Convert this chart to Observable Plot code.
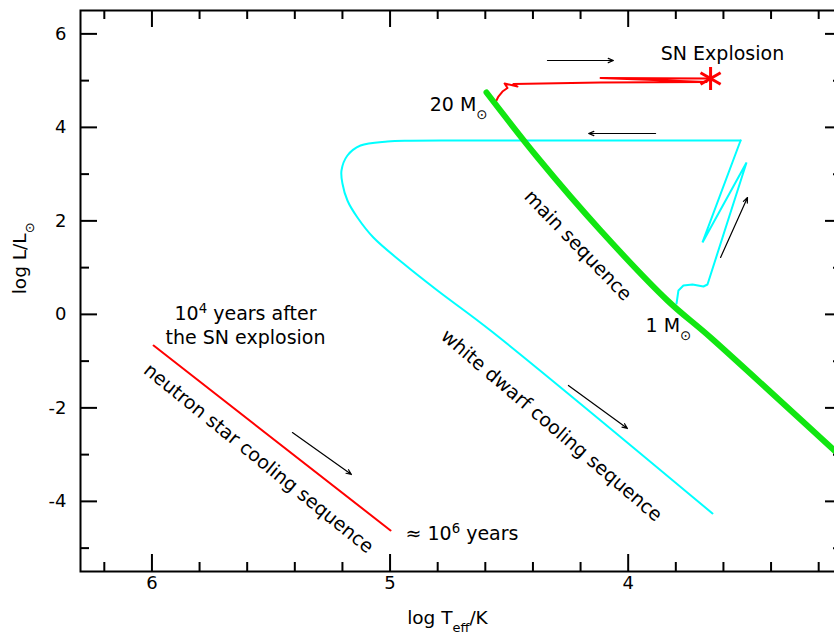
<!DOCTYPE html>
<html>
<head>
<meta charset="utf-8">
<script src="https://cdn.jsdelivr.net/npm/d3@7"></script>
<script src="https://cdn.jsdelivr.net/npm/@observablehq/plot@0.6"></script>
<style>
  html, body { margin: 0; padding: 0; background: #fff; overflow: hidden; }
  #chart { width: 834px; height: 634px; overflow: hidden; }
  #chart svg { display: block; max-width: none !important; width: 850px; height: 634px; }
</style>
</head>
<body>
<div id="chart"></div>
<script>
// Hertzsprung–Russell diagram: evolutionary tracks of a 1 and a 20 solar-mass star
// x = log Teff (K), y = log L/Lsun

// Zero-age main sequence
const mainSeqTeff = [4.595, 4.377, 4.116, 3.835, 3.654, 3.134, 3.080];
const mainSeqLum  = [4.746, 3.334, 1.794, 0.297, -0.495, -2.912, -3.160];

// 1 Msun: main sequence -> red giant branch -> horizontal branch -> AGB
const sunTeff = [3.797, 3.789, 3.768, 3.730, 3.684, 3.667, 3.503, 3.688, 3.528];
const sunLum  = [0.233, 0.511, 0.618, 0.639, 0.596, 0.639, 3.249, 1.538, 3.719];

// 1 Msun: post-AGB crossing and white dwarf cooling sequence
const wdTeff = [3.528, 4.700, 4.914, 5.011, 5.124, 5.179, 5.204, 5.200, 5.179, 5.137, 5.070, 4.944, 4.801, 4.578, 3.646];
const wdLum  = [3.719, 3.719, 3.715, 3.698, 3.612, 3.398, 3.078, 2.800, 2.436, 2.072, 1.644, 1.088, 0.511, -0.345, -4.259];

// 20 Msun: main sequence -> red supergiant -> supernova
const massiveTeff = [4.557, 4.545, 4.528, 4.507, 4.519, 4.465, 4.482, 4.116, 3.671, 4.116, 3.654];
const massiveLum  = [4.539, 4.660, 4.767, 4.842, 4.939, 4.874, 4.928, 4.960, 4.971, 5.056, 5.045];

// Supernova explosion point
const snTeff = [3.654];
const snLum  = [5.045];

// Neutron star cooling: 10^4 yr -> 10^6 yr after the explosion
const nsTeff = [5.993, 4.998];
const nsLum  = [-0.666, -4.623];

// Direction-of-evolution arrows
const arrowTeff1 = [4.339, 3.885, 3.612, 4.251, 5.410];
const arrowLum1  = [5.430, 3.869, 1.217, -1.521, -2.527];
const arrowTeff2 = [4.062, 4.166, 3.499, 4.003, 5.162];
const arrowLum2  = [5.430, 3.869, 2.500, -2.441, -3.425];

// Axis ticks
const xMajor = [6, 5, 4];
const xMinor = [6.2, 5.8, 5.6, 5.4, 5.2, 4.8, 4.6, 4.4, 4.2, 3.8, 3.6, 3.4, 3.2];
const yMajor = [-4, -2, 0, 2, 4, 6];
const yMinor = [-5, -3, -1, 1, 3, 5];

const pts = (xs, ys) => xs.map((x, i) => ({x, y: ys[i]}));
const arrows = arrowTeff1.map((x1, i) => ({x1, y1: arrowLum1[i], x2: arrowTeff2[i], y2: arrowLum2[i]}));

const W = 850, H = 634, ML = 80, MR = 8, MT = 10, MB = 63;
const FW = W - ML - MR, FH = H - MT - MB;
const majorLen = 17, minorLen = 9;
const font = 19, tickFont = 18, titleFont = 18.5;

const tickMarks = (vals, len) => [
  Plot.ruleX(vals, {x: d => d, insetTop: FH - len, stroke: "black", strokeWidth: 2}),
  Plot.ruleX(vals, {x: d => d, insetBottom: FH - len, stroke: "black", strokeWidth: 2}),
];
const tickMarksY = (vals, len) => [
  Plot.ruleY(vals, {y: d => d, insetRight: FW - len, stroke: "black", strokeWidth: 2}),
  Plot.ruleY(vals, {y: d => d, insetLeft: FW - len, stroke: "black", strokeWidth: 2}),
];
const label = (x, y, text, opts = {}) =>
  Plot.text([{x, y, text}], {x: "x", y: "y", text: "text", fontSize: font, fill: "black", ...opts});

const chart = Plot.plot({
  width: W, height: H,
  marginLeft: ML, marginRight: MR, marginTop: MT, marginBottom: MB,
  style: {fontFamily: "'DejaVu Sans', sans-serif", background: "white"},
  x: {domain: [6.3, 3.1], axis: null},
  y: {domain: [-5.5, 6.5], axis: null},
  marks: [
    // evolutionary tracks
    Plot.line(pts(sunTeff, sunLum), {x: "x", y: "y", stroke: "#00ffff", strokeWidth: 2, strokeLinejoin: "miter"}),
    Plot.line(pts(wdTeff, wdLum), {x: "x", y: "y", stroke: "#00ffff", strokeWidth: 2, curve: "catmull-rom"}),
    Plot.line(pts(massiveTeff, massiveLum), {x: "x", y: "y", stroke: "#ff0000", strokeWidth: 2}),
    Plot.line(pts(nsTeff, nsLum), {x: "x", y: "y", stroke: "#ff0000", strokeWidth: 2}),
    Plot.line(pts(mainSeqTeff, mainSeqLum), {x: "x", y: "y", stroke: "#11e611", strokeWidth: 6, curve: "catmull-rom", clip: true}),
    Plot.dot(pts(snTeff, snLum), {x: "x", y: "y", symbol: "asterisk", r: 11, stroke: "#ff0000", strokeWidth: 3}),
    Plot.arrow(arrows, {x1: "x1", y1: "y1", x2: "x2", y2: "y2", stroke: "black", strokeWidth: 1.2, headLength: 7, headAngle: 45}),

    // annotations
    label(3.604, 5.580, "SN Explosion"),
    label(4.591, 4.489, "20 M_{⊙}", {textAnchor: "end"}),
    label(3.927, -0.249, "1 M_{⊙}", {textAnchor: "start"}),
    label(4.211, 1.473, "main sequence", {rotate: 46}),
    label(4.322, -2.377, "white dwarf cooling sequence", {rotate: 40.5}),
    label(5.607, 0.004, "10^{4} years after"),
    label(5.607, -0.505, "the SN explosion"),
    label(5.552, -3.083, "neutron star cooling sequence", {rotate: 39}),
    label(4.935, -4.687, "≈ 10^{6} years", {textAnchor: "start"}),

    // frame and inward ticks on all four sides
    Plot.frame({stroke: "black", strokeWidth: 2}),
    ...tickMarks(xMajor, majorLen),
    ...tickMarks(xMinor, minorLen),
    ...tickMarksY(yMajor, majorLen),
    ...tickMarksY(yMinor, minorLen),

    // tick labels
    Plot.text(xMajor, {x: d => d, frameAnchor: "bottom", dy: 17, text: d => String(d), fontSize: tickFont}),
    Plot.text(yMajor, {y: d => d, frameAnchor: "left", dx: -14, textAnchor: "end", text: d => String(d), fontSize: tickFont}),

    // axis titles
    Plot.text(["log T_{eff}/K"], {x: 4.759, frameAnchor: "bottom", dy: 52, text: d => d, fontSize: titleFont}),
    Plot.text(["log L/L_{⊙}"], {y: 0.43, frameAnchor: "left", dx: -60, rotate: -90, text: d => d, fontSize: titleFont}),
  ]
});

// Turn _{...} and ^{...} into sub- and superscript tspans
function applyScripts(svg) {
  const NS = "http://www.w3.org/2000/svg";
  const span = (s) => { const t = document.createElementNS(NS, "tspan"); t.textContent = s; return t; };
  svg.querySelectorAll("text").forEach(el => {
    const s = el.textContent;
    if (!/[_^]\{/.test(s)) return;
    el.textContent = "";
    const re = /([_^])\{([^}]*)\}/g;
    let last = 0, m;
    while ((m = re.exec(s))) {
      if (m.index > last) el.appendChild(span(s.slice(last, m.index)));
      const t = span(m[2]);
      t.style.fontSize = "0.7em";
      t.setAttribute("baseline-shift", m[1] === "_" ? "sub" : "super");
      el.appendChild(t);
      last = re.lastIndex;
    }
    if (last < s.length) el.appendChild(span(s.slice(last)));
  });
}
applyScripts(chart);
document.getElementById("chart").appendChild(chart);
</script>
</body>
</html>
